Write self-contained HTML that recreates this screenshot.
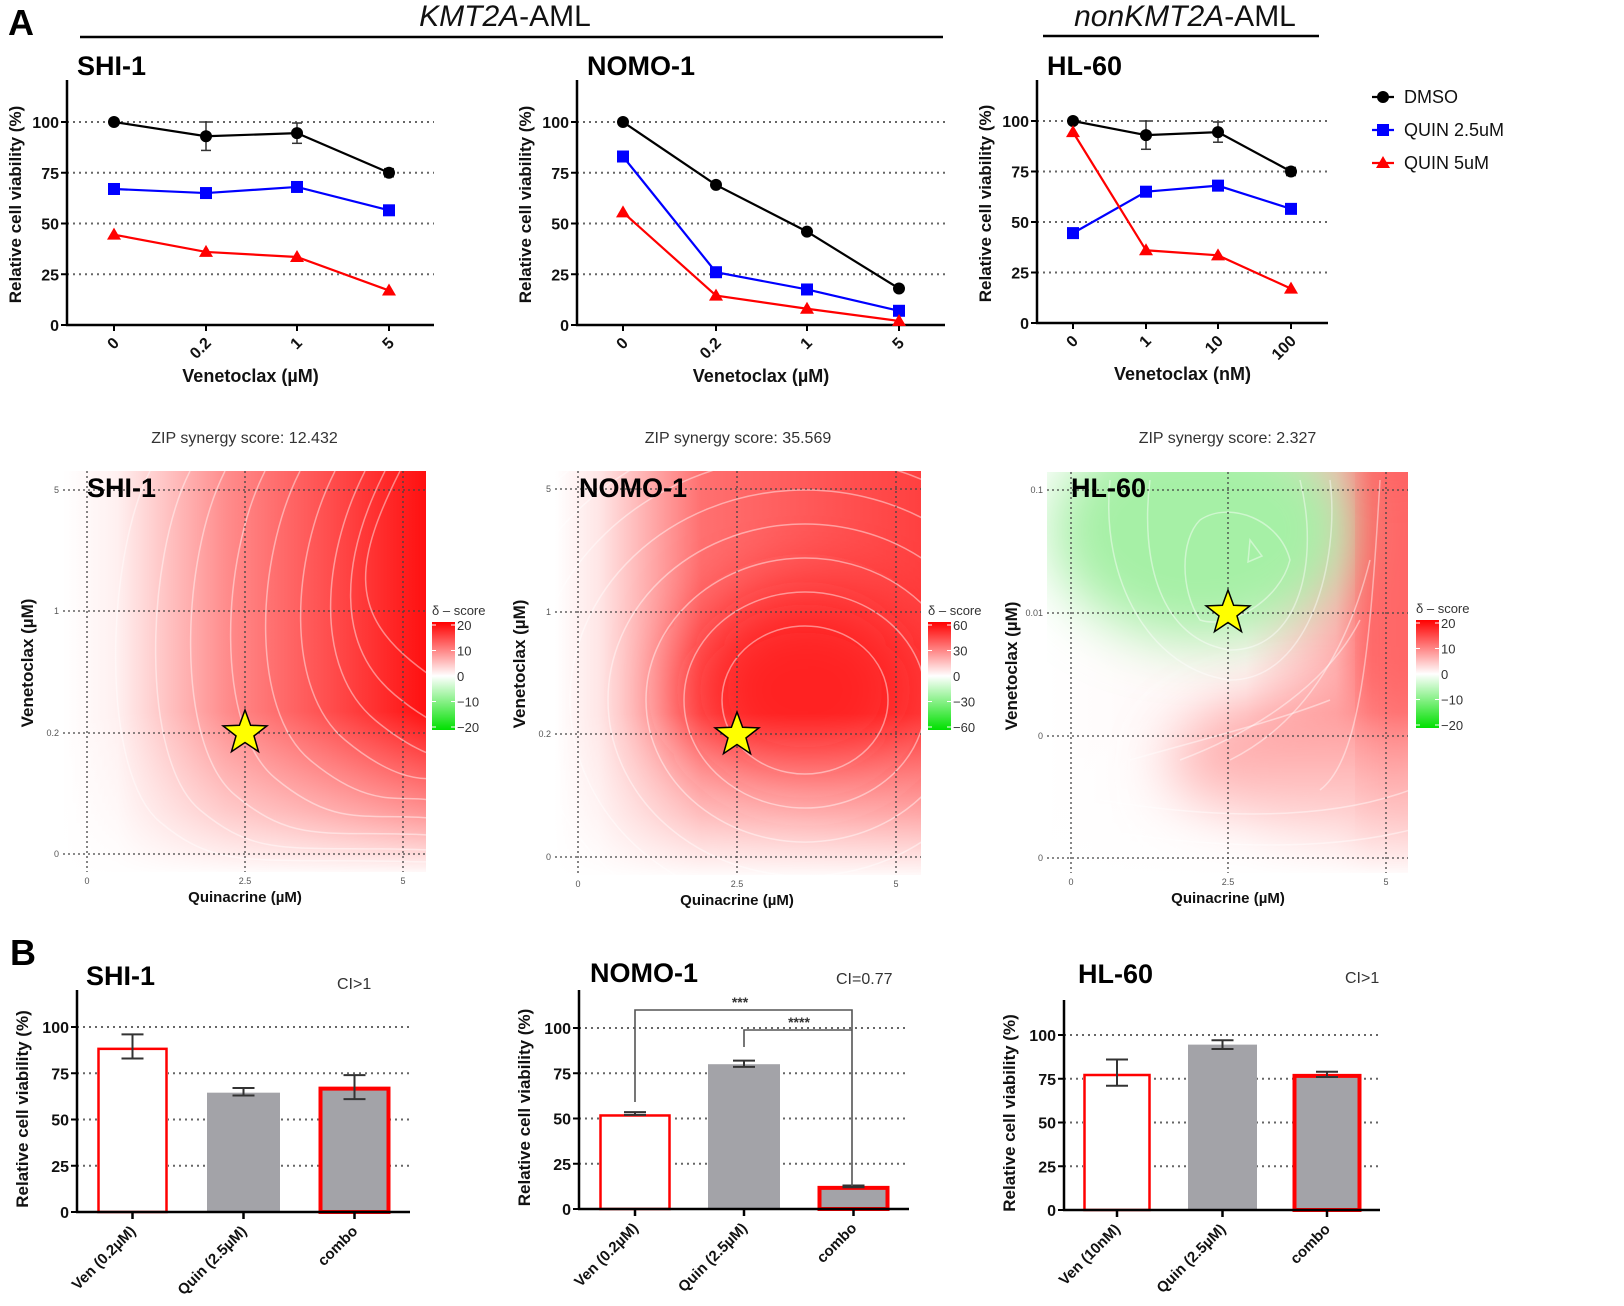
<!DOCTYPE html>
<html><head><meta charset="utf-8">
<style>html,body{margin:0;padding:0;background:#fff}svg{display:block}text{font-family:"Liberation Sans",Arial,sans-serif}</style>
</head><body>
<svg id="s" xmlns="http://www.w3.org/2000/svg" width="1624" height="1306" viewBox="0 0 1624 1306">
<defs>
<filter id="bl" x="-50%" y="-50%" width="200%" height="200%"><feGaussianBlur stdDeviation="35"/></filter>
<filter id="bl2" x="-50%" y="-50%" width="200%" height="200%"><feGaussianBlur stdDeviation="28"/></filter>
<linearGradient id="hShi" x1="0" x2="1" y1="0" y2="0"><stop offset="0" stop-color="#fff"/><stop offset="0.15" stop-color="#fff0f0"/><stop offset="0.45" stop-color="#ff8c8c"/><stop offset="0.75" stop-color="#ff4a4a"/><stop offset="1" stop-color="#ff1010"/></linearGradient>
<linearGradient id="vFade" x1="0" x2="0" y1="0" y2="1"><stop offset="0" stop-color="#fff" stop-opacity="0"/><stop offset="0.6" stop-color="#fff" stop-opacity="0"/><stop offset="0.85" stop-color="#fff" stop-opacity="0.55"/><stop offset="1" stop-color="#fff" stop-opacity="0.97"/></linearGradient>
<linearGradient id="hNomo" x1="0" x2="1" y1="0" y2="0"><stop offset="0" stop-color="#fff"/><stop offset="0.12" stop-color="#ffe6e6"/><stop offset="0.4" stop-color="#ff7070"/><stop offset="1" stop-color="#ff4040"/></linearGradient>
<linearGradient id="hHl" x1="0" x2="1" y1="0" y2="0"><stop offset="0" stop-color="#fff"/><stop offset="0.55" stop-color="#fff4f4"/><stop offset="0.8" stop-color="#ffb0b0"/><stop offset="0.9" stop-color="#ff6a6a"/><stop offset="1" stop-color="#ff6060"/></linearGradient>
<linearGradient id="cb" x1="0" x2="0" y1="0" y2="1"><stop offset="0" stop-color="#ff0000"/><stop offset="0.5" stop-color="#ffffff"/><stop offset="1" stop-color="#00e000"/></linearGradient>
<clipPath id="c1"><rect x="63" y="471" width="363" height="401"/></clipPath>
<clipPath id="c2"><rect x="555" y="471" width="366" height="404"/></clipPath>
<clipPath id="c3"><rect x="1047" y="472" width="361" height="401"/></clipPath>
</defs>
<g id="root"></g>
</svg>
<script>
const NS="http://www.w3.org/2000/svg",root=document.getElementById('root');
function el(t,a,txt,p){const e=document.createElementNS(NS,t);for(const k in a)e.setAttribute(k,a[k]);if(txt!==undefined&&txt!==null)e.textContent=txt;(p||root).appendChild(e);return e;}
function T(x,y,s,o){o=o||{};return el('text',{x:x,y:y,'font-size':o.fs||16,'font-weight':o.fw||'normal','text-anchor':o.a||'start',fill:o.c||'#000','font-style':o.fi||'normal',transform:o.tr||''},s);}
function L(x1,y1,x2,y2,c,w,d,p){return el('line',{x1:x1,y1:y1,x2:x2,y2:y2,stroke:c||'#000','stroke-width':w||1,'stroke-dasharray':d||'none'},null,p);}

T(8,35,'A',{fs:36,fw:'bold'});
T(10,965,'B',{fs:36,fw:'bold'});
const h1=T(505,26,'',{fs:30,a:'middle',c:'#111'});
el('tspan',{'font-style':'italic'},'KMT2A',h1);el('tspan',{},'-AML',h1);
L(80,37,943,37,'#000',2.5);
const h2=T(1185,26,'',{fs:30,a:'middle',c:'#111'});
el('tspan',{'font-style':'italic'},'nonKMT2A',h2);el('tspan',{},'-AML',h2);
L(1043,36,1319,36,'#000',2.5);

function marker(type,x,y){
 if(type==0)el('circle',{cx:x,cy:y,r:6,fill:'#000'});
 else if(type==1)el('rect',{x:x-6,y:y-6,width:12,height:12,fill:'#0000ff'});
 else el('polygon',{points:`${x},${y-7} ${x+7},${y+5} ${x-7},${y+5}`,fill:'#ff0000'});
}
function lineChart(o){
 const Y=v=>o.y0-(o.y0-o.y100)*v/100;
 for(let v=25;v<=100;v+=25)L(o.ax,Y(v),o.axR,Y(v),'#666',2,'2,4');
 L(o.ax,80,o.ax,o.y0+1,'#000',2.5);L(o.ax-1,o.y0,o.axR,o.y0,'#000',2.5);
 for(let v=0;v<=100;v+=25){L(o.ax-6,Y(v),o.ax,Y(v),'#000',2);T(o.ax-8,Y(v)+6,String(v),{fs:16,fw:'bold',a:'end',c:'#111'});}
 o.xs.forEach((x,i)=>{L(x,o.y0,x,o.y0+6,'#000',2);T(x+6,o.y0+19,o.lab[i],{fs:16,fw:'bold',a:'end',tr:`rotate(-45 ${x+6} ${o.y0+19})`,c:'#111'});});
 T((o.ax+o.axR)/2,o.y0+57,o.xt,{fs:18,fw:'bold',a:'middle',c:'#111'});
 T(0,0,'Relative cell viability (%)',{fs:17,fw:'bold',a:'middle',tr:`translate(${o.ax-46},${(80+o.y0)/2+2}) rotate(-90)`,c:'#111'});
 T(o.ax+10,75,o.title,{fs:27,fw:'bold'});
 const cols=['#000','#0000ff','#ff0000'];
 o.d.forEach((s,k)=>{el('polyline',{points:s.map((v,i)=>o.xs[i]+','+Y(v)).join(' '),fill:'none',stroke:cols[k],'stroke-width':2.2});});
 if(o.err)o.err.forEach((e,i)=>{if(e>0){const x=o.xs[i],v=o.d[0][i];L(x,Y(v+e),x,Y(v-e),'#333',1.5);L(x-5,Y(v+e),x+5,Y(v+e),'#333',1.5);L(x-5,Y(v-e),x+5,Y(v-e),'#333',1.5);}});
 o.d.forEach((s,k)=>s.forEach((v,i)=>marker(k,o.xs[i],Y(v))));
}
lineChart({ax:67,axR:434,y0:325,y100:122,xs:[114,206,297,389],lab:['0','0.2','1','5'],xt:'Venetoclax (\u00b5M)',title:'SHI-1',
 d:[[100,93,94.5,75],[67,65,68,56.5],[44.5,36,33.5,17]],err:[0,7,5,2]});
lineChart({ax:577,axR:945,y0:325,y100:122,xs:[623,716,807,899],lab:['0','0.2','1','5'],xt:'Venetoclax (\u00b5M)',title:'NOMO-1',
 d:[[100,69,46,18],[83,26,17.5,7],[55.5,14.5,8,2]]});
lineChart({ax:1037,axR:1328,y0:323,y100:121,xs:[1073,1146,1218,1291],lab:['0','1','10','100'],xt:'Venetoclax (nM)',title:'HL-60',
 d:[[100,93,94.5,75],[44.5,65,68,56.5],[94.5,36,33.5,17]],err:[0,7,5,2]});
[['DMSO',97],['QUIN 2.5uM',130],['QUIN 5uM',163]].forEach((l,k)=>{L(1372,l[1],1394,l[1],['#000','#0000ff','#ff0000'][k],2.2);marker(k,1383,l[1]);T(1404,l[1]+6,l[0],{fs:18,c:'#111'});});

function heat(o){
 const g=el('g',{'clip-path':`url(#${o.clip})`});
 o.fill(g);
 o.cont.forEach(d=>el('path',{d:d,fill:'none',stroke:'#fff','stroke-opacity':0.45,'stroke-width':1.5},null,g));
 o.gx.forEach(x=>L(x,o.y1,x,o.y2,'#444',1.3,'2,3'));
 o.gy.forEach(y=>L(o.x1,y,o.x2,y,'#444',1.3,'2,3'));
 o.gx.forEach((x,i)=>T(x,o.y2+12,['0','2.5','5'][i],{fs:9,a:'middle',c:'#555'}));
 o.gy.forEach((y,i)=>T(o.x1-4,y+3,o.yl[i],{fs:9,a:'end',c:'#555'}));
 T((o.x1+o.x2)/2,443,o.zip,{fs:16,a:'middle',c:'#333'});
 T(o.x1+24,497,o.title,{fs:27,fw:'bold'});
 T(0,0,'Venetoclax (\u00b5M)',{fs:17,fw:'bold',a:'middle',tr:`translate(${o.x1-30},${o.gy[2]-70}) rotate(-90)`,c:'#111'});
 T(o.gx[1],o.y2+30,'Quinacrine (\u00b5M)',{fs:15,fw:'bold',a:'middle',c:'#111'});
 const [sx,sy]=o.star,R=23,r=9.5;let p=[];for(let i=0;i<10;i++){const a=-Math.PI/2+i*Math.PI/5,rr=i%2?r:R;p.push((sx+rr*Math.cos(a)).toFixed(1)+','+(sy+rr*Math.sin(a)).toFixed(1));}
 el('polygon',{points:p.join(' '),fill:'#ffff00',stroke:'#000','stroke-width':1.5});
 const cx=o.cbx,cy=o.cby;
 el('rect',{x:cx,y:cy,width:23,height:108,fill:'url(#cb)'});
 o.cbl.forEach((s,i)=>{const y=cy+3+i*25.5;L(cx,y,cx+4,y,'#fff',1);L(cx+19,y,cx+23,y,'#fff',1);T(cx+25,y+5,s,{fs:13,c:'#333'});});
 T(cx,cy-7,'\u03b4 \u2013 score',{fs:13,c:'#333'});
}
heat({clip:'c1',x1:63,x2:426,y1:471,y2:872,gx:[87,245,403],gy:[490,611,733,854],yl:['5','1','0.2','0'],zip:'ZIP synergy score: 12.432',title:'SHI-1',star:[245,733],cbx:432,cby:622,cbl:['20','10','0','\u221210','\u221220'],
 fill:g=>{el('rect',{x:63,y:471,width:363,height:401,fill:'url(#hShi)'},null,g);el('rect',{x:63,y:471,width:363,height:401,fill:'url(#vFade)'},null,g);},
 cont:(()=>{const a=[];const xt=[150,190,225,265,300,335,365,385,400],ye=[862,850,835,818,800,780,760,735,700];xt.forEach((x,i)=>{const y=ye[i];a.push(`M${x},471 C${x-45},560 ${x-50},${y-90} ${x+10},${y-40} S${x+100},${y-5} 430,${y}`);});return a;})()});
heat({clip:'c2',x1:555,x2:921,y1:471,y2:875,gx:[578,737,896],gy:[489,612,734,857],yl:['5','1','0.2','0'],zip:'ZIP synergy score: 35.569',title:'NOMO-1',star:[737,735],cbx:928,cby:622,cbl:['60','30','0','\u221230','\u221260'],
 fill:g=>{el('rect',{x:555,y:471,width:366,height:404,fill:'url(#hNomo)'},null,g);el('ellipse',{cx:805,cy:690,rx:120,ry:100,fill:'#ff2020',filter:'url(#bl)'},null,g);el('rect',{x:555,y:471,width:366,height:404,fill:'url(#vFade)'},null,g);},
 cont:(()=>{const a=[];for(let i=1;i<=10;i++){const rx=45+i*38,ry=40+i*34;a.push(`M${805-rx},${700} A${rx},${ry} 0 1 1 ${805+rx*0.2},${700+ry*0.98} A${rx},${ry} 0 0 1 ${805-rx},700`);}return a;})()});
heat({clip:'c3',x1:1047,x2:1408,y1:472,y2:873,gx:[1071,1228,1386],gy:[490,613,736,858],yl:['0.1','0.01','0','0'],zip:'ZIP synergy score: 2.327',title:'HL-60',star:[1228,613],cbx:1416,cby:620,cbl:['20','10','0','\u221210','\u221220'],
 fill:g=>{el('rect',{x:1047,y:472,width:361,height:401,fill:'url(#hHl)'},null,g);
  el('ellipse',{cx:1200,cy:530,rx:150,ry:110,fill:'#a6f0a6',filter:'url(#bl2)'},null,g);
  el('ellipse',{cx:1320,cy:770,rx:150,ry:70,fill:'#ff9a9a',filter:'url(#bl2)'},null,g);
  el('rect',{x:1375,y:472,width:40,height:360,fill:'#ff6a6a',filter:'url(#bl2)'},null,g);
  el('rect',{x:1047,y:472,width:361,height:401,fill:'url(#vFade)'},null,g);},
 cont:['M1250,540 L1262,556 L1248,562 Z','M1200,520 C1230,500 1280,520 1290,560 C1280,600 1230,630 1200,620 C1180,590 1180,540 1200,520',
  'M1150,480 C1140,560 1160,640 1230,650 C1300,650 1320,560 1300,480','M1110,480 C1100,580 1150,670 1230,680 C1310,680 1340,560 1330,480',
  'M1130,760 C1200,740 1280,720 1330,700','M1180,760 C1260,730 1330,680 1360,620','M1230,760 C1310,720 1350,640 1370,560',
  'M1100,800 C1220,820 1330,820 1410,790','M1100,830 C1220,850 1330,850 1410,830','M1320,790 C1360,760 1370,650 1380,480']});

function bar(o){
 const Y=v=>o.y0-(o.y0-o.y100)*v/100;
 for(let v=25;v<=100;v+=25)L(o.ax,Y(v),o.axR,Y(v),'#666',2,'2,4');
 o.bars.forEach((b,i)=>{const [x1,x2,v,lo,hi,fill,red]=b;
  el('rect',{x:x1,y:Y(v),width:x2-x1,height:o.y0-Y(v),fill:fill?'#a3a3a8':'#fff'});
  if(red)el('rect',{x:x1+1.5,y:Y(v)+1.5,width:x2-x1-3,height:o.y0-Y(v)-1.5,fill:'none',stroke:'#ff0000','stroke-width':red});
  const c=(x1+x2)/2;L(c,Y(hi),c,Y(lo),'#333',2);L(c-11,Y(hi),c+11,Y(hi),'#333',2);L(c-11,Y(lo),c+11,Y(lo),'#333',2);
  L(c,o.y0,c,o.y0+7,'#000',2.5);
  T(c+4,o.y0+20,o.lab[i],{fs:15,fw:'bold',a:'end',tr:`rotate(-45 ${c+4} ${o.y0+20})`,c:'#111'});
 });
 L(o.ax,o.top,o.ax,o.y0+1,'#000',2.5);L(o.ax-1,o.y0,o.axR,o.y0,'#000',2.5);
 for(let v=0;v<=100;v+=25){L(o.ax-6,Y(v),o.ax,Y(v),'#000',2);T(o.ax-8,Y(v)+6,String(v),{fs:16,fw:'bold',a:'end',c:'#111'});}
 T(0,0,'Relative cell viability (%)',{fs:17,fw:'bold',a:'middle',tr:`translate(${o.ax-49},${(o.top+o.y0)/2+8}) rotate(-90)`,c:'#111'});
 T(o.tx,o.ty,o.title,{fs:27,fw:'bold'});
 T(o.cix,o.ciy,o.ci,{fs:16,c:'#333'});
}
bar({ax:77,axR:410,top:990,y0:1212,y100:1027,title:'SHI-1',tx:86,ty:985,ci:'CI>1',cix:337,ciy:989,lab:['Ven (0.2\u00b5M)','Quin (2.5\u00b5M)','combo'],
 bars:[[97,168,89,83,96,0,2.5],[207,280,64.5,63,67,1,0],[319,390,67.5,61,74,1,4]]});
bar({ax:579,axR:909,top:990,y0:1209,y100:1028,title:'NOMO-1',tx:590,ty:982,ci:'CI=0.77',cix:836,ciy:984,lab:['Ven (0.2\u00b5M)','Quin (2.5\u00b5M)','combo'],
 bars:[[599,671,52.5,52,53.5,0,2.5],[708,780,80,78.5,82,1,0],[818,889,12.5,12,13,1,4]]});
bar({ax:1064,axR:1380,top:1000,y0:1210,y100:1035,title:'HL-60',tx:1078,ty:983,ci:'CI>1',cix:1345,ciy:983,lab:['Ven (10nM)','Quin (2.5\u00b5M)','combo'],
 bars:[[1083,1151,78,71,86,0,2.5],[1188,1257,94.5,92,97,1,0],[1293,1361,77.5,76,79,1,4]]});
el('polyline',{points:'635,1102 635,1010 852,1010 852,1186',fill:'none',stroke:'#555','stroke-width':1.6});
el('polyline',{points:'744,1047 744,1030 852,1030',fill:'none',stroke:'#555','stroke-width':1.6});
T(740,1007,'***',{fs:14,fw:'bold',a:'middle',c:'#333'});
T(799,1027,'****',{fs:14,fw:'bold',a:'middle',c:'#333'});
</script>
</body></html>
